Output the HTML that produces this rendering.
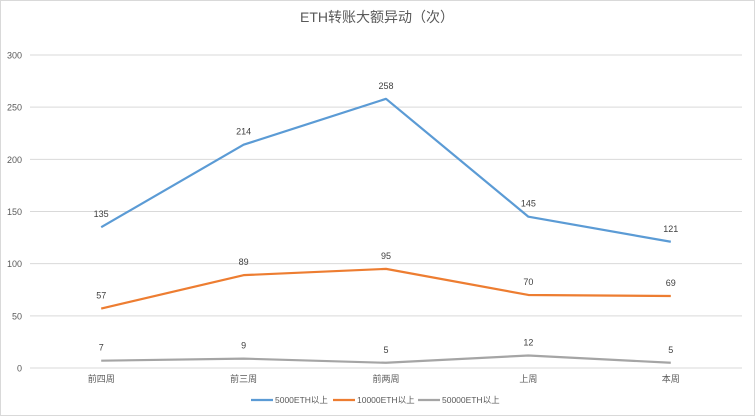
<!DOCTYPE html>
<html><head><meta charset="utf-8"><style>
html,body{margin:0;padding:0;background:#fff;}
svg{display:block;font-family:"Liberation Sans","Noto Sans CJK SC",sans-serif;}
</style></head><body>
<svg id="chart" width="755" height="416" viewBox="0 0 755 416">
<rect x="0.5" y="0.5" width="754" height="415" fill="#fff" stroke="#d9d9d9"/>
<text x="377" y="22" text-anchor="middle" font-size="14" fill="#595959">ETH转账大额异动（次）</text>
<g id="grid"></g><g id="series"></g><g id="legend"></g>
</svg>
<script>
const categories=["前四周","前三周","前两周","上周","本周"];
const s5000=[135,214,258,145,121];
const s10000=[57,89,95,70,69];
const s50000=[7,9,5,12,5];
const yTicks=[0,50,100,150,200,250,300];
const seriesNames=["5000ETH以上","10000ETH以上","50000ETH以上"];
const colors=["#5b9bd5","#ed7d31","#a5a5a5"];
const NS="http://www.w3.org/2000/svg";
const L=30,R=742,T=55,B=368,YMAX=300;
const x=i=>L+(R-L)/categories.length*(i+0.5);
const y=v=>B-(B-T)*v/YMAX;
function mk(tag,attrs,parent,text){const e=document.createElementNS(NS,tag);for(const k in attrs)e.setAttribute(k,attrs[k]);if(text!==undefined)e.textContent=text;parent.appendChild(e);return e;}
const grid=document.getElementById('grid');
yTicks.forEach(t=>{
  const l=mk('line',{x1:L,x2:R,y1:y(t),y2:y(t),stroke:'#d9d9d9','stroke-width':1},grid);
  
  
  const tx=mk('text',{x:22,y:y(t)+3.5,'text-anchor':'end','font-size':9,fill:'#595959'},grid,t);
  
  
});
categories.forEach((c,i)=>{
  const tx=mk('text',{x:x(i),y:382,'text-anchor':'middle','font-size':9,fill:'#595959'},grid,c);
  
  
});
const sg=document.getElementById('series');
[s5000,s10000,s50000].forEach((d,si)=>{
  const p=mk('polyline',{points:d.map((v,i)=>x(i)+','+y(v)).join(' '),fill:'none',stroke:colors[si],'stroke-width':2.2,'stroke-linejoin':'round'},sg);
  
  
  d.forEach((v,i)=>{
    const t=mk('text',{x:x(i),y:y(v)-10,'text-anchor':'middle','font-size':9,fill:'#404040'},sg,v);
    
    
  });
});
const lg=document.getElementById('legend');
const lx=[251,333,418];
seriesNames.forEach((n,i)=>{
  const g=mk('g',{},lg);
  
  
  mk('line',{x1:lx[i],x2:lx[i]+22,y1:400,y2:400,stroke:colors[i],'stroke-width':2.2},g);
  mk('text',{x:lx[i]+24,y:403,'font-size':8.5,fill:'#595959'},g,n);
});
</script>
</body></html>
